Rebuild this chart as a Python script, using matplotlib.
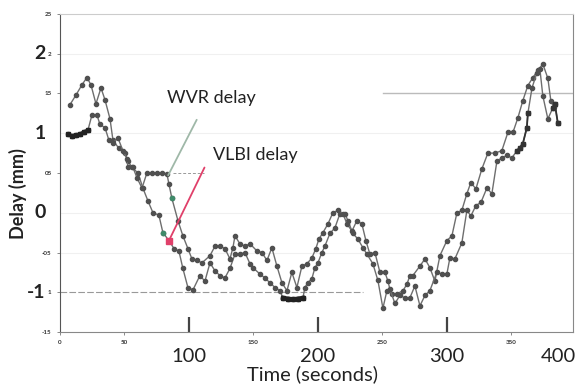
#import section
import matplotlib
matplotlib.use("Agg")
import matplotlib.pyplot as plt
import matplotlib.transforms as mtransforms

plt.rcParams['font.family'] = ['Lato', 'DejaVu Sans']

# data (seconds, mm)
t_vlbi = [7.8, 12.4, 17.1, 20.9, 24.0, 27.9, 31.8, 34.9, 38.8, 41.1, 45.7, 50.4, 52.7, 55.8, 60.5,
          64.3, 68.2, 72.1, 76.7, 79.8, 84.5, 88.4, 92.2, 95.3, 99.2, 103.1, 108.5, 112.4, 116.3,
          120.2, 124.0, 127.9, 131.8, 135.7, 139.5, 143.4, 147.3, 149.6, 155.0, 158.9, 162.8,
          166.7, 170.5, 172.9, 176.7, 180.6, 184.5, 188.4, 189.9, 192.2, 195.3, 197.7, 200.0,
          203.1, 205.4, 209.3, 213.2, 217.1, 220.9, 223.3, 227.1, 231.0, 234.9, 238.0, 242.6,
          246.5, 250.4, 253.5, 257.5, 261.2, 265.9, 269.0, 271.3, 273.6, 279.1, 283.0, 286.8,
          290.7, 294.6, 300.0, 303.9, 307.8, 311.6, 315.5, 318.6, 322.5, 327.1, 331.8, 337.2,
          342.6, 347.3, 351.2, 355.0, 358.9, 362.8, 366.7, 370.5, 374.4, 378.3, 380.6, 382.9]
d_vlbi = [1.36, 1.48, 1.61, 1.70, 1.61, 1.37, 1.57, 1.42, 1.18, 0.91, 0.81, 0.75, 0.65, 0.57, 0.50,
          0.31, 0.15, 0.00, -0.03, -0.25, -0.35, -0.45, -0.48, -0.70, -0.94, -0.97, -0.79, -0.86,
          -0.63, -0.73, -0.79, -0.82, -0.70, -0.52, -0.52, -0.50, -0.64, -0.69, -0.77, -0.82,
          -0.88, -0.94, -0.98, -1.07, -1.08, -1.09, -1.08, -1.07, -0.94, -0.88, -0.83, -0.69,
          -0.63, -0.50, -0.42, -0.26, -0.19, -0.01, -0.01, -0.10, -0.26, -0.33, -0.44, -0.52,
          -0.64, -0.85, -1.20, -0.98, -1.02, -1.02, -0.98, -0.90, -0.79, -0.79, -0.67, -0.58,
          -0.69, -0.86, -0.54, -0.35, -0.29, 0.00, 0.03, 0.24, 0.38, 0.30, 0.55, 0.75, 0.75,
          0.78, 1.01, 1.01, 1.19, 1.41, 1.60, 1.70, 1.79, 1.87, 1.69, 1.41, 1.33]

t_wvr = [6.2, 9.3, 12.4, 15.5, 18.6, 21.7, 24.8, 28.7, 31.0, 34.9, 38.0, 41.1, 45.0, 48.8, 51.9,
         52.7, 56.6, 59.7, 63.6, 67.4, 71.3, 75.2, 79.1, 82.9, 84.5, 86.8, 91.5, 95.3, 99.2,
         102.3, 106.2, 110.1, 116.3, 120.2, 124.0, 127.9, 131.8, 134.1, 135.7, 139.5, 143.4,
         147.3, 152.7, 156.6, 160.5, 164.3, 168.2, 172.1, 176.0, 179.8, 183.7, 187.6, 191.5,
         195.3, 198.4, 200.8, 203.9, 207.8, 211.6, 215.5, 219.4, 222.5, 226.4, 230.2, 234.1,
         237.2, 240.3, 244.2, 248.1, 252.0, 254.3, 255.8, 259.7, 263.6, 267.4, 271.3, 275.2,
         279.1, 283.0, 286.8, 292.2, 296.1, 300.0, 302.3, 306.2, 311.6, 315.5, 318.6, 322.5,
         326.4, 331.0, 334.9, 338.8, 342.6, 346.5, 350.4, 354.3, 356.6, 358.9, 362.0, 362.8,
         366.0, 369.8, 372.1, 374.4, 378.3, 382.2, 383.7, 386.0]
d_wvr = [0.99, 0.97, 0.98, 0.99, 1.02, 1.04, 1.23, 1.23, 1.11, 1.07, 0.91, 0.88, 0.94, 0.78, 0.68,
         0.57, 0.57, 0.44, 0.31, 0.50, 0.50, 0.50, 0.50, 0.49, 0.36, 0.18, -0.10, -0.29, -0.45,
         -0.58, -0.60, -0.63, -0.54, -0.42, -0.42, -0.45, -0.58, -0.44, -0.29, -0.39, -0.42,
         -0.39, -0.48, -0.50, -0.60, -0.44, -0.67, -0.88, -0.98, -0.75, -0.94, -0.67, -0.64,
         -0.57, -0.45, -0.33, -0.25, -0.14, 0.00, 0.03, -0.01, -0.14, -0.23, -0.10, -0.14,
         -0.35, -0.52, -0.50, -0.75, -0.75, -0.86, -0.96, -1.14, -1.04, -1.07, -1.07, -0.92,
         -1.17, -1.04, -0.98, -0.75, -0.77, -0.77, -0.57, -0.58, -0.38, 0.03, -0.04, 0.09,
         0.13, 0.31, 0.24, 0.65, 0.69, 0.72, 0.69, 0.78, 0.82, 0.87, 1.07, 1.25, 1.57, 1.76,
         1.81, 1.47, 1.18, 1.32, 1.37, 1.13]

x_small = [0, 50, 150, 250, 350]
x_small_lbl = ["0", "50", "150", "250", "350"]
x_big = [100, 200, 300, 400]
y_small = [-1.5, -1, -0.5, 0.5, 1.5, 2, 2.5]
y_small_lbl = ["-15", "1", "-05", "05", "15", "2", "25"]
y_big = [-1, 0, 1, 2]

fig = plt.figure(figsize=(5.8, 3.87), dpi=100)
ax = fig.add_axes([0.1034, 0.142, 0.885, 0.822])
ax.set_xlim(0, 398)
ax.set_ylim(-1.5, 2.5)

# faint scanned grid remnants
ax.axhline(1.5, 0.63, 1.0, color='#bbbbbb', lw=1.0)
ax.axhline(-1.0, 0.0, 0.59, color='#999999', lw=0.8, ls=(0, (6, 2)))
ax.axhline(0.5, 0.22, 0.28, color='#999999', lw=0.7, ls=(0, (3, 2)))
for yy in [-0.5, 0, 1, 2]:
    ax.axhline(yy, color='#f0f0f0', lw=0.8, zorder=0)

line_col = '#6e6e6e'
mark_col = '#505050'
ax.plot(t_vlbi, d_vlbi, '-o', color=line_col, lw=1.0, ms=3.0, mfc=mark_col, mec=mark_col)
ax.plot(t_wvr, d_wvr, '-o', color=line_col, lw=1.0, ms=3.0, mfc=mark_col, mec=mark_col)
# dark square segments
ax.plot(t_wvr[0:6], d_wvr[0:6], '-s', color='#222222', lw=2.2, ms=3.5)
ax.plot(t_wvr[96:101], d_wvr[96:101], '-s', color='#333333', lw=1.3, ms=3.2)
ax.plot(t_wvr[106:109], d_wvr[106:109], '-s', color='#333333', lw=1.3, ms=3.5)
ax.plot(t_vlbi[43:48], d_vlbi[43:48], '-s', color='#222222', lw=3.0, ms=3.5)
# coloured highlight points
ax.plot(t_vlbi[20], d_vlbi[20], 's', color='#e0406a', ms=4.5)
ax.plot([t_vlbi[19], t_wvr[25]], [d_vlbi[19], d_wvr[25]], 'o', color='#3f8a6a', ms=3.0)

# annotations
ax.annotate("", xy=(t_wvr[23], d_wvr[23] - 0.05), xytext=(107, 1.2),
            arrowprops=dict(arrowstyle='-', color='#9fb8a8', lw=1.3))
ax.text(83, 1.38, "WVR delay", fontsize=13, color='#222222')
ax.annotate("", xy=(t_vlbi[20], d_vlbi[20]), xytext=(113, 0.6),
            arrowprops=dict(arrowstyle='-', color='#e0406a', lw=1.3))
ax.text(119, 0.66, "VLBI delay", fontsize=13, color='#222222')

# spines
for s in ['left', 'bottom', 'right', 'top']:
    ax.spines[s].set_color('#888888')
ax.spines['left'].set_color('#555555')
ax.spines['left'].set_linestyle((0, (4, 1)))
ax.spines['top'].set_color('#cccccc')

# small tick labels
ax.set_xticks(x_small)
ax.set_xticklabels(x_small_lbl, fontsize=4.5, fontweight='bold', color='#333333')
ax.set_yticks(y_small)
ax.set_yticklabels(y_small_lbl, fontsize=4.5, fontweight='bold', color='#333333')
ax.tick_params(axis='both', length=2, width=0.6, color='#777777', pad=4)
ax.set_xticks(x_big[:-1], minor=True)
ax.tick_params(axis='x', which='minor', direction='in', length=11, width=1.6, color='#444444')

# large tick labels
tx = mtransforms.blended_transform_factory(ax.transData, ax.transAxes)
for v in x_big:
    ha = 'right' if v == 400 else 'center'
    ax.text(v, -0.05, str(v), transform=tx, ha=ha, va='top', fontsize=14.5, color='#222222')
ty = mtransforms.blended_transform_factory(ax.transAxes, ax.transData)
for v in y_big:
    ax.text(-0.028, v, str(v), transform=ty, ha='right', va='center', fontsize=14,
            fontweight='bold', color='#222222')

fig.text(0.031, 0.50, "Delay (mm)", rotation=90, ha='center', va='center', fontsize=13,
         fontweight='bold', color='#222222')
fig.text(0.538, 0.032, "Time (seconds)", ha='center', va='center', fontsize=14.5, color='#222222')

plt.savefig("out.png", dpi=100)
